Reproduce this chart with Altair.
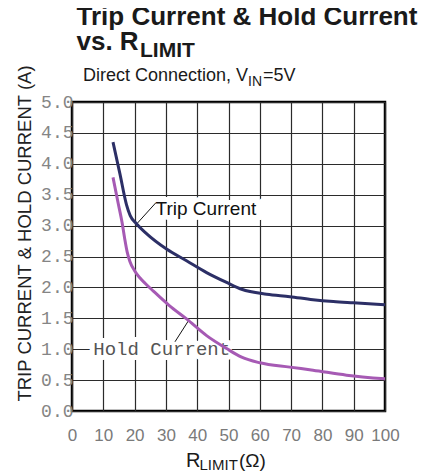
import altair as alt
import pandas as pd

# ---- data ----
trip_r = [13.1, 15.3, 17.4, 18.6, 20.6, 23.8, 30.2, 36.6, 43.0, 49.4, 54.2, 62.2, 69.6, 77.0, 83.5, 89.9, 100.0]
trip_i = [4.35, 3.84, 3.34, 3.16, 3.03, 2.87, 2.62, 2.43, 2.24, 2.08, 1.97, 1.89, 1.85, 1.80, 1.77, 1.75, 1.72]
hold_r = [13.1, 14.8, 16.0, 16.8, 17.6, 18.5, 20.0, 21.6, 23.5, 26.0, 31.0, 36.6, 43.0, 49.4, 54.2, 60.0, 69.6, 77.0, 87.7, 100.0]
hold_i = [3.78, 3.35, 3.05, 2.80, 2.58, 2.42, 2.27, 2.16, 2.06, 1.94, 1.71, 1.49, 1.22, 1.01, 0.87, 0.78, 0.71, 0.66, 0.58, 0.52]

x_ticks = [0, 10, 20, 30, 40, 50, 60, 70, 80, 90, 100]
y_ticks = [0.0, 0.5, 1.0, 1.5, 2.0, 2.5, 3.0, 3.5, 4.0, 4.5, 5.0]

series_names = ["Trip Current", "Hold Current"]
label_r = [26.7, 6.8]
label_i = [3.17, 0.906]
leader_r = [20.9, 32.9]
leader_i = [3.04, 1.12]
leader_r2 = [26.8, 37.2]
leader_i2 = [3.37, 1.46]

title_line1 = "Trip Current & Hold Current"
title_line2 = "vs. R"
title_line2_sub = "LIMIT"
subtitle_main = "Direct Connection, V"
subtitle_sub = "IN"
subtitle_end = "=5V"
y_title = "TRIP CURRENT & HOLD CURRENT (A)"
x_title_main = "R"
x_title_sub = "LIMIT"
x_title_end = "(Ω)"

# ---- tables ----
curves = pd.concat([
    pd.DataFrame({"r": trip_r, "i": trip_i, "s": series_names[0]}),
    pd.DataFrame({"r": hold_r, "i": hold_i, "s": series_names[1]}),
])
labels = pd.DataFrame({"r": label_r, "i": label_i, "s": series_names})
leaders = pd.DataFrame({"r": leader_r, "i": leader_i, "r2": leader_r2, "i2": leader_i2})

x_axis = alt.Axis(values=x_ticks, title=None, grid=True, gridColor="#2b2b2b", gridWidth=1.2,
                  domain=False, ticks=False, labelPadding=16, labelFont="Liberation Sans",
                  labelFontSize=17, labelColor="#7a7a7a", format="d",
                  labelOverlap=False, labelBound=False, labelFlush=False)
y_axis = alt.Axis(values=y_ticks, title=y_title, grid=True, gridColor="#2b2b2b", gridWidth=1.2,
                  domain=False, ticks=False, labelPadding=-1, labelFont="Liberation Mono",
                  labelFontSize=18, labelColor="#858585", format=".1f",
                  labelOverlap=False, labelBound=False, labelFlush=False,
                  titleFont="Liberation Sans", titleFontSize=18.5, titleFontWeight="normal",
                  titleColor="#222222", titleAngle=270, titleAlign="center", titleBaseline="middle",
                  titleX=-48, titleY=131)

X = alt.X("r:Q", scale=alt.Scale(domain=[0, 100], nice=False, zero=False), axis=x_axis)
Y = alt.Y("i:Q", scale=alt.Scale(domain=[0, 5], nice=False), axis=y_axis)

base = alt.Chart(curves)

lines = base.mark_line(strokeWidth=3, interpolate="monotone").encode(
    x=X, y=Y,
    color=alt.Color("s:N", scale=alt.Scale(domain=series_names, range=["#2c2f66", "#a65ab4"]), legend=None),
    detail="s:N",
)

lab = alt.Chart(labels).transform_calculate(h="replace(datum.s, ' ', 'M')")
trip_lab = lab.transform_filter(alt.datum.s == series_names[0])
hold_lab = lab.transform_filter(alt.datum.s == series_names[1])

trip_halo = trip_lab.mark_text(font="Liberation Sans", fontSize=19, align="left", baseline="alphabetic",
                               stroke="white", strokeWidth=10, fill="white", strokeJoin="round").encode(x=X, y=Y, text="h:N")
trip_text = trip_lab.mark_text(font="Liberation Sans", fontSize=19, align="left", baseline="alphabetic",
                               color="#111111").encode(x=X, y=Y, text="s:N")
hold_halo = hold_lab.mark_text(font="Liberation Mono", fontSize=19, align="left", baseline="alphabetic",
                               stroke="white", strokeWidth=10, fill="white", strokeJoin="round").encode(x=X, y=Y, text="h:N")
hold_text = hold_lab.mark_text(font="Liberation Mono", fontSize=19, align="left", baseline="alphabetic",
                               color="#555555").encode(x=X, y=Y, text="s:N")

lead = alt.Chart(leaders).mark_rule(color="#111111", strokeWidth=1).encode(
    x=X, y=Y, x2="r2:Q", y2="i2:Q")


def txt(s, x, y, size, weight="normal", color="#1a1a1a", font="Liberation Sans"):
    return alt.Chart(pd.DataFrame({"t": [s]})).mark_text(
        font=font, fontSize=size, fontWeight=weight, align="left", baseline="alphabetic", color=color
    ).encode(x=alt.value(x), y=alt.value(y), text="t:N")


titles = [
    txt(title_line1, 4.5, -77, 26, "bold"),
    txt(title_line2, 4.5, -52, 26, "bold"),
    txt(title_line2_sub, 68, -45, 21, "bold"),
    txt(subtitle_main, 11, -21, 18),
    txt(subtitle_sub, 176, -16, 14),
    txt(subtitle_end, 191, -21, 18),
    txt(x_title_main, 114, 364.5, 20),
    txt(x_title_sub, 127.5, 367.5, 15),
    txt(x_title_end, 167, 364.5, 19),
]

chart = alt.layer(
    trip_halo, hold_halo, trip_text, hold_text, lead, lines, *titles
).properties(
    width=313, height=309,
    padding={"left": 64, "top": 94, "right": 39, "bottom": 63},
    autosize=alt.AutoSizeParams(type="none"),
    background="white",
).configure_view(stroke="black", strokeWidth=2.5)

chart.save("out.html", embed_options={"renderer": "svg", "actions": False})
